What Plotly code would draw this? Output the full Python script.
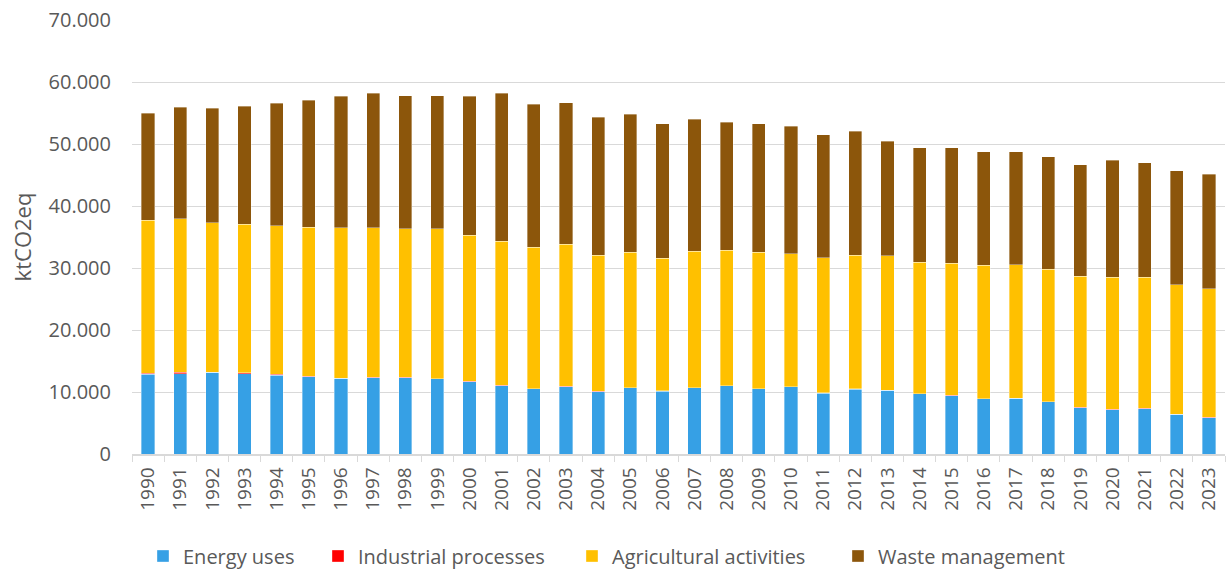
import plotly.graph_objects as go

years = [str(y) for y in range(1990, 2024)]

energy_uses = [12900, 12970, 13150, 12970, 12700, 12440, 12210, 12330, 12330, 12110,
               11680, 11030, 10490, 10870, 10060, 10660, 10110, 10660, 10980, 10490,
               10820, 9790, 10440, 10270, 9690, 9420, 8880, 8980, 8400, 7480,
               7160, 7270, 6400, 5860]
industrial_processes = [120, 210, 40, 140, 160, 120, 40, 50, 60, 50,
                        40, 50, 40, 40, 50, 40, 100, 40, 50, 50,
                        50, 110, 50, 40, 40, 40, 50, 40, 40, 40,
                        40, 70, 30, 30]
agricultural_activities = [24670, 24780, 24130, 23930, 23970, 24050, 24260, 24130, 23960, 24190,
                           23550, 23220, 22800, 22900, 21930, 21830, 21390, 22030, 21810, 21990,
                           21440, 21760, 21600, 21670, 21170, 21280, 21490, 21510, 21330, 21120,
                           21330, 21140, 20870, 20770]
waste_management = [17240, 17990, 18410, 19060, 19710, 20470, 21160, 21700, 21420, 21420,
                    22400, 23910, 23050, 22840, 22240, 22290, 21650, 21280, 20630, 20720,
                    20570, 19870, 19980, 18470, 18470, 18630, 18370, 18190, 18210, 18050,
                    18850, 18530, 18350, 18460]

series = [
    ("Energy uses", energy_uses, "#36A0E5"),
    ("Industrial processes", industrial_processes, "#FF0000"),
    ("Agricultural activities", agricultural_activities, "#FFC000"),
    ("Waste management", waste_management, "#8C560B"),
]

# one legend per series so each entry can sit at its own horizontal position
legend_ids = ["legend", "legend2", "legend3", "legend4"]
legend_left_px = [143, 318, 572, 838]

W, H = 1229, 572
fig = go.Figure()
for (name, vals, color), lid in zip(series, legend_ids):
    fig.add_trace(go.Bar(
        x=years, y=vals, name=name, legend=lid, showlegend=True,
        marker=dict(color=color, line=dict(color="rgba(255,255,255,0.45)", width=0.8)),
    ))

font_family = "Open Sans, Liberation Sans, sans-serif"
legend_layout = {}
for lid, px in zip(legend_ids, legend_left_px):
    legend_layout[lid] = dict(
        orientation="h",
        xref="container", yref="container",
        x=px / W, xanchor="left",
        y=1 - 556 / H, yanchor="middle",
        font=dict(size=20, color="#595959"),
        itemwidth=30,
        bgcolor="rgba(0,0,0,0)",
    )

fig.update_layout(
    showlegend=True,
    barmode="stack",
    bargap=0.59,
    width=W, height=H,
    margin=dict(l=132, r=4, t=20, b=118),
    paper_bgcolor="white",
    plot_bgcolor="white",
    separators=",.",
    font=dict(family=font_family, color="#595959"),
    xaxis=dict(
        type="category",
        tickangle=-90,
        tickfont=dict(size=19, color="#595959"),
        showline=True, linecolor="#D9D9D9", linewidth=1.5,
        ticks="outside", tickson="boundaries", ticklen=6, tickcolor="#D9D9D9",
        ticklabelstandoff=4,
        showgrid=False,
    ),
    yaxis=dict(
        range=[0, 70000], dtick=10000,
        tickformat=",d",
        tickfont=dict(size=20, color="#595959"),
        gridcolor="#D9D9D9", gridwidth=1.3,
        zeroline=False,
        ticklabelstandoff=20,
        title=dict(text="ktCO2eq", font=dict(size=22, color="#595959"), standoff=10),
    ),
    **legend_layout,
)

fig.write_html("out.html")
